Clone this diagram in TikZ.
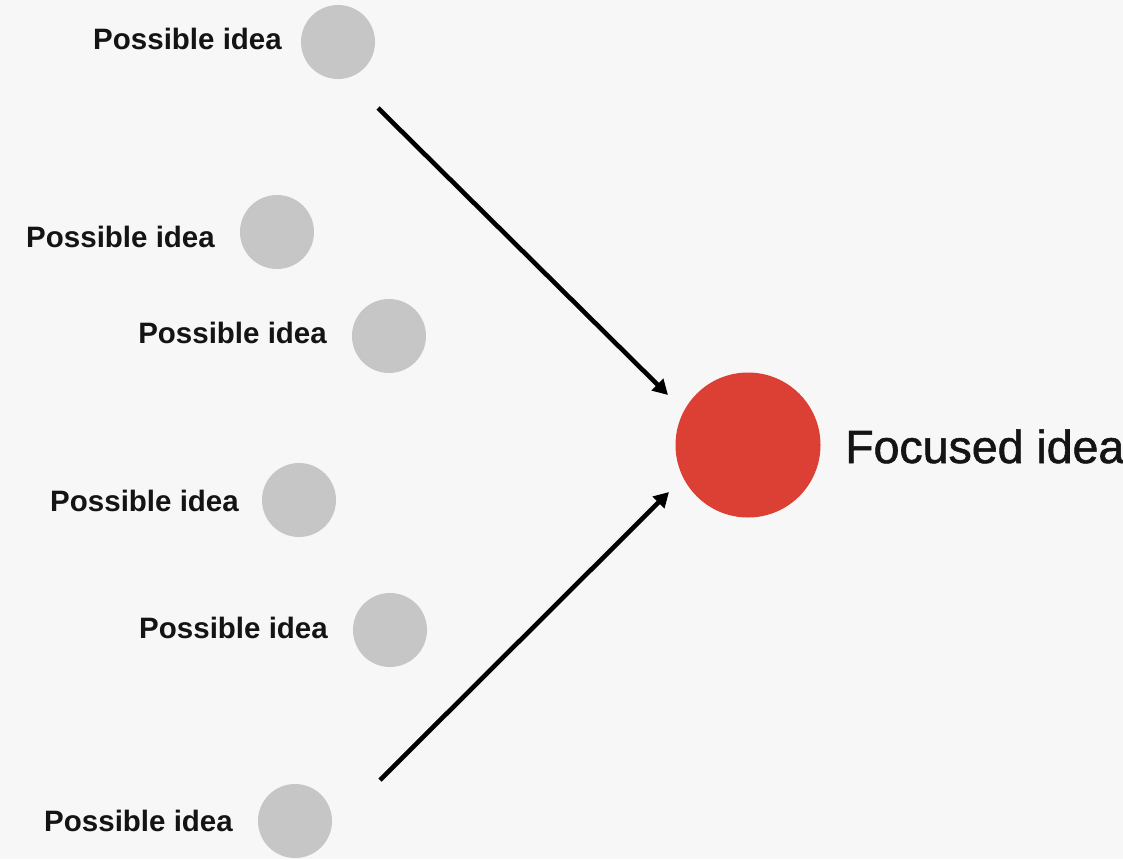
\documentclass[tikz,border=0pt]{standalone}
\usepackage{fontspec}
\setmainfont{Liberation Sans}
\newfontfamily\focusfont[FakeBold=1.2]{Liberation Sans}
\usetikzlibrary{arrows.meta}
\definecolor{bg}{HTML}{F7F7F7}
\definecolor{idea}{HTML}{C6C6C6}
\definecolor{focus}{HTML}{DC3F33}
\definecolor{ink}{HTML}{141414}
\tikzset{
  possible/.style={circle, fill=idea, draw=none, minimum size=74pt, inner sep=0pt},
  focused/.style={circle, fill=focus, draw=none, minimum size=145pt, inner sep=0pt},
  lbl/.style={font=\fontsize{29.5}{32}\selectfont\bfseries, text=ink, inner sep=0pt, anchor=base east},
  flbl/.style={font=\focusfont\fontsize{46.5}{50}\selectfont, text=ink, inner sep=0pt, anchor=base west},
  conn/.style={line width=4.6pt, draw=black, -{Triangle[length=15pt,width=16pt]}}
}
\begin{document}
\begin{tikzpicture}[x=1pt,y=-1pt]
\fill[bg] (0,0) rectangle (1123,859);
\useasboundingbox (0,0) rectangle (1123,859);
\node[possible] (p1) at (338,42) {};
\node[possible] (p2) at (277,232) {};
\node[possible] (p3) at (389,336) {};
\node[possible] (p4) at (299,500) {};
\node[possible] (p5) at (390,630) {};
\node[possible] (p6) at (295,821) {};
\node[lbl] (l1) at (282,50) {Possible idea};
\node[lbl] (l2) at (215,247) {Possible idea};
\node[lbl] (l3) at (327,343) {Possible idea};
\node[lbl] (l4) at (239,511) {Possible idea};
\node[lbl] (l5) at (328,638) {Possible idea};
\node[lbl] (l6) at (233,831) {Possible idea};
\node[focused] (f) at (748,445) {};
\node[flbl] (fl) at (845,463) {Focused idea};
\coordinate (a1s) at (378,108);
\coordinate (a1e) at (668,395);
\coordinate (a2s) at (380,780);
\coordinate (a2e) at (669,492);
\draw[conn] (a1s) -- (a1e);
\draw[conn] (a2s) -- (a2e);
\end{tikzpicture}
\end{document}
